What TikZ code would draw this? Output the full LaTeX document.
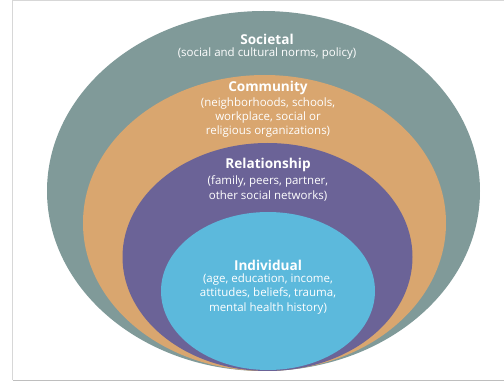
\documentclass[tikz,border=0pt]{standalone}
\usepackage{fontspec}
\setmainfont{Open Sans}
\usetikzlibrary{shapes.geometric}
\definecolor{socC}{RGB}{128,154,153}
\definecolor{comC}{RGB}{217,166,111}
\definecolor{relC}{RGB}{107,99,151}
\definecolor{indC}{RGB}{92,185,220}
\definecolor{frameC}{RGB}{215,215,215}
\definecolor{frameB}{RGB}{190,190,190}
\tikzset{
  ring/.style={ellipse, draw=none, inner sep=0pt, outer sep=0pt},
  ttl/.style={text=white, font={\fontsize{13.6}{15}\selectfont\bfseries}, inner sep=0pt},
  sub/.style={text=white, align=center, font={\fontsize{11.5}{14.2}\selectfont}, inner sep=0pt}
}
\begin{document}
\begin{tikzpicture}[x=1pt,y=-1pt]
\fill[white] (0,0) rectangle (504,382);
\useasboundingbox (0,0) rectangle (504,382);
\coordinate (fTL) at (12.5,0.5);
\coordinate (fBL) at (12.5,380.5);
\coordinate (fBR) at (504,380.5);
\coordinate (fTR) at (504,0.5);
\draw[frameC, line width=1pt] (fTR) -- (fTL) -- (fBL);
\draw[frameB, line width=1.2pt] (fBL) -- (fBR);
\node[ring, fill=socC, minimum width=433pt, minimum height=360pt] (soc) at (263.5,191) {};
\node[ring, fill=comC, minimum width=363pt, minimum height=296pt] (com) at (264.5,223) {};
\node[ring, fill=relC, minimum width=290pt, minimum height=228pt] (rel) at (267.5,257) {};
\node[ring, fill=indC, minimum width=214pt, minimum height=158pt] (ind) at (268,291) {};
\node[ttl] (socT) at (267,39) {Societal};
\node[sub] (socS) at (267,54) {(social and cultural norms, policy)};
\node[ttl] (comT) at (268,88) {Community};
\node[sub] (comS) at (268,117.5) {(neighborhoods, schools,\\workplace, social or\\religious organizations)};
\node[ttl] (relT) at (268,165) {Relationship};
\node[sub] (relS) at (268,188.5) {(family, peers, partner,\\other social networks)};
\node[ttl] (indT) at (268,265) {Individual};
\node[sub] (indS) at (268,294) {(age, education, income,\\attitudes, beliefs, trauma,\\mental health history)};
\end{tikzpicture}
\end{document}
